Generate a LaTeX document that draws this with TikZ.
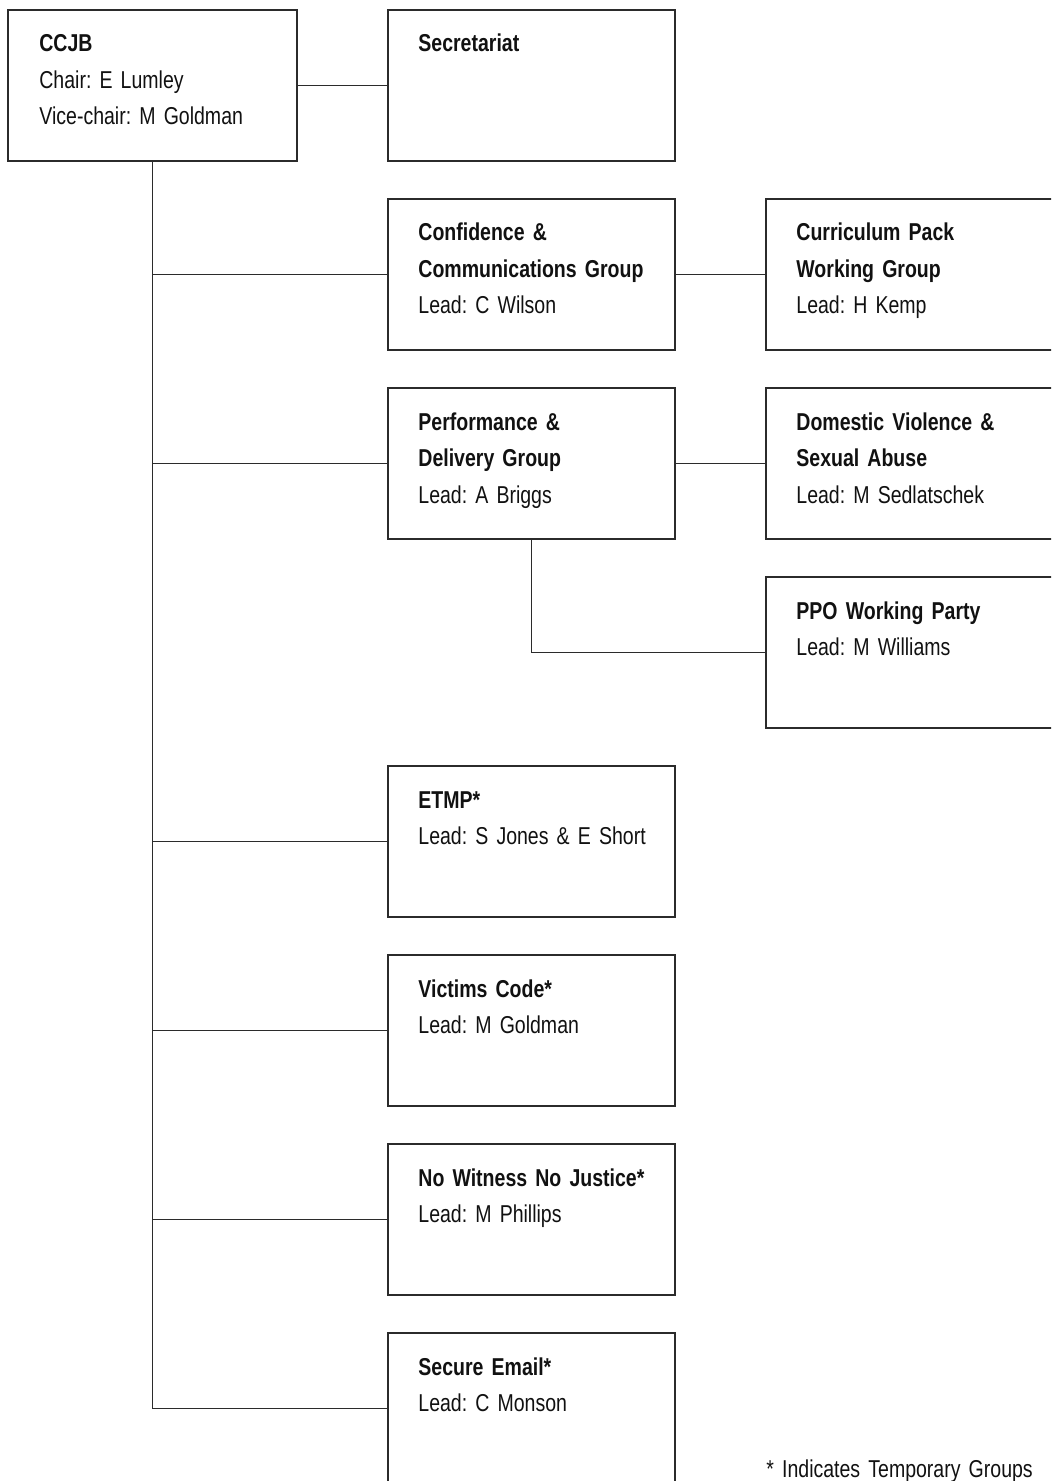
\documentclass[tikz,border=0pt]{standalone}
\usepackage{fontspec}
\setmainfont{Liberation Sans}[FakeStretch=0.8]
\frenchspacing
\usepackage{tikz}
\usetikzlibrary{positioning}
\definecolor{lineink}{HTML}{2B2B2B}
\definecolor{textink}{HTML}{111111}
\newcommand{\grpfont}{\fontsize{12.2}{18.25}\selectfont\spaceskip=2.5pt\relax}
\tikzstyle{grpbox} = [draw=lineink, rectangle, line width=1pt, minimum width=143.5pt, minimum height=75.5pt, inner sep=0pt, outer sep=0pt, anchor=north west]
\tikzstyle{subbox} = [grpbox, minimum width=150pt]
\tikzstyle{grptext} = [anchor=base west, inner sep=0pt, text width=135pt, align=left, text=textink, font=\grpfont]
\tikzstyle{link} = [draw=lineink, line width=0.7pt]

\begin{document}
\begin{tikzpicture}[x=0.5pt, y=-0.5pt]
    \useasboundingbox (0,0) rectangle (1051,1481);
    \clip (0,0) rectangle (1051,1481);

    % Board and secretariat
    \node (ccjb) [grpbox, minimum width=144.5pt] at (8,10) {};
    \node (ccjbtxt) [grptext] at ([shift={(31,42)}]ccjb.north west) {\textbf{CCJB}\\Chair: E Lumley\\Vice-chair: M Goldman};
    \node (sec) [grpbox, right=45.5pt of ccjb] {};
    \node (sectxt) [grptext] at ([shift={(30,42)}]sec.north west) {\textbf{Secretariat}};
    \draw [link] (ccjb) -- (sec);

    % Standing groups
    \node (conf) [grpbox] at (388,199) {};
    \node (conftxt) [grptext] at ([shift={(30,42)}]conf.north west) {\textbf{Confidence \&}\\\textbf{Communications Group}\\Lead: C Wilson};
    \node (perf) [grpbox] at (388,388) {};
    \node (perftxt) [grptext] at ([shift={(30,42)}]perf.north west) {\textbf{Performance \&}\\\textbf{Delivery Group}\\Lead: A Briggs};

    % Sub-groups
    \node (curr) [subbox, right=45.5pt of conf] {};
    \node (currtxt) [grptext] at ([shift={(30,42)}]curr.north west) {\textbf{Curriculum Pack}\\\textbf{Working Group}\\Lead: H Kemp};
    \node (dv) [subbox, right=45.5pt of perf] {};
    \node (dvtxt) [grptext] at ([shift={(30,42)}]dv.north west) {\textbf{Domestic Violence \&}\\\textbf{Sexual Abuse}\\Lead: M Sedlatschek};
    \node (ppo) [subbox] at (766,577) {};
    \node (ppotxt) [grptext] at ([shift={(30,42)}]ppo.north west) {\textbf{PPO Working Party}\\Lead: M Williams};
    \draw [link] (conf) -- (curr);
    \draw [link] (perf) -- (dv);
    \draw [link] (perf.south) |- (ppo.west);

    % Temporary groups
    \node (etmp) [grpbox] at (388,766) {};
    \node (etmptxt) [grptext] at ([shift={(30,42)}]etmp.north west) {\textbf{ETMP*}\\Lead: S Jones \& E Short};
    \node (victims) [grpbox] at (388,955) {};
    \node (victimstxt) [grptext] at ([shift={(30,42)}]victims.north west) {\textbf{Victims Code*}\\Lead: M Goldman};
    \node (nowit) [grpbox] at (388,1144) {};
    \node (nowittxt) [grptext] at ([shift={(30,42)}]nowit.north west) {\textbf{No Witness No Justice*}\\Lead: M Phillips};
    \node (secure) [grpbox] at (388,1333) {};
    \node (securetxt) [grptext] at ([shift={(30,42)}]secure.north west) {\textbf{Secure Email*}\\Lead: C Monson};

    % Trunk from the board
    \foreach \grp in {conf,perf,etmp,victims,nowit,secure}
        \draw [link] (ccjb.south) |- (\grp.west);

    \node (note) [grptext, text width=140pt] at (766,1477) {* Indicates Temporary Groups};
\end{tikzpicture}
\end{document}
